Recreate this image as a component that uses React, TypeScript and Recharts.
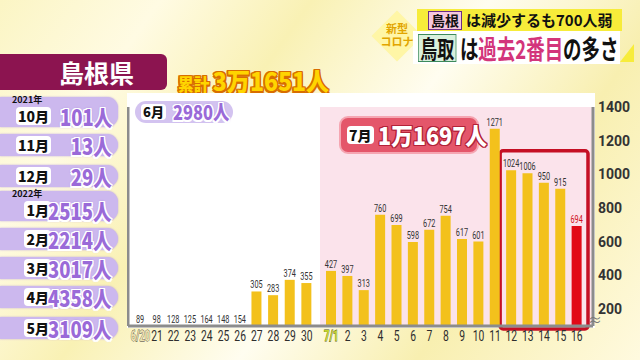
import { Bar, BarChart, CartesianGrid, Cell, LabelList, Rectangle, ReferenceArea, XAxis, YAxis } from 'recharts'

// June (6/20 - 6/30) daily new cases, Shimane
const juneDays = ['6/20', '21', '22', '23', '24', '25', '26', '27', '28', '29', '30']
const juneCases = [89, 98, 128, 125, 164, 148, 154, 305, 283, 374, 355]

// July (7/1 - 7/16)
const julyDays = ['7/1', '2', '3', '4', '5', '6', '7', '8', '9', '10', '11', '12', '13', '14', '15', '16']
const julyCases = [427, 397, 313, 760, 699, 598, 672, 754, 617, 601, 1271, 1024, 1006, 950, 915, 694]

// monthly totals on the left
const monthNames = ['10月', '11月', '12月', '1月', '2月', '3月', '4月', '5月']
const monthTotals = [101, 13, 29, 2515, 2214, 3017, 4358, 3109]
const monthYears = ['2021年', '', '', '2022年', '', '', '', '']

const yTicks = [200, 400, 600, 800, 1000, 1200, 1400]
const Y_DOMAIN = [100, 1400]
const BREAK_AT = 200 // bars below the axis break are not drawn
const LATEST_DAY = '16'
const BOX_FROM = '12'
const BOX_TO = '16'
const BOX_TOP = 1140

const juneData = juneDays.map((day, i) => ({ day, cases: juneCases[i] }))
const julyData = julyDays.map((day, i) => ({ day, cases: julyCases[i] }))

const JP = '"Noto Sans CJK JP", "Noto Sans", sans-serif'
const NUM = 'Roboto, "Noto Sans", sans-serif'
const BAR_YELLOW = '#f3c11c'
const BAR_RED = '#e20a17'
const AXIS_GRAY = '#8c8c8c'

const outline = (c: string, w: number) =>
  [[w, 0], [-w, 0], [0, w], [0, -w], [w, w], [-w, -w], [w, -w], [-w, w]]
    .map(([a, b]) => `${a}px ${b}px 0 ${c}`)
    .join(',')

const squeeze = (s: number, origin = 'left') => ({
  display: 'inline-block',
  transform: `scaleX(${s})`,
  transformOrigin: origin,
  whiteSpace: 'nowrap' as const,
})

const BarShape = (p: any) => {
  if (p.payload.cases < BREAK_AT) return <g />
  return <Rectangle {...p} />
}

const BarValue = (p: any) => {
  const { x, y, width, height, value, index } = p
  const small = value < BREAK_AT
  const baseY = y + height
  const isLatest = p.days && p.days[index] === LATEST_DAY
  const s = String(value)
  return (
    <text
      x={x + width / 2}
      y={small ? baseY - 3 : y - 3}
      textAnchor="middle"
      fontSize={11}
      fontFamily={NUM}
      textLength={s.length * 4.1}
      lengthAdjust="spacingAndGlyphs"
      fill={isLatest ? '#d0101c' : '#333'}
    >
      {s}
    </text>
  )
}

const DayTick = ({ x, y, payload }: any) => {
  const v = payload.value as string
  const first = v === '6/20'
  const july = v === '7/1'
  return (
    <text
      x={x}
      y={y + 13}
      textAnchor="middle"
      fontSize={15}
      fontFamily={NUM}
      textLength={v.length * (v.includes('/') ? 4.8 : 5.8)}
      lengthAdjust="spacingAndGlyphs"
      fontWeight={first || july ? 700 : 400}
      fill={july ? '#c5d52a' : first ? '#efe2b0' : '#2e2e2e'}
      stroke={july ? '#505020' : first ? '#333' : 'none'}
      strokeWidth={first || july ? 0.8 : 0}
      paintOrder="stroke"
    >
      {v}
    </text>
  )
}

const RedBox = (p: any) => (
  <rect
    x={p.x - 3}
    y={p.y}
    width={p.width + 6}
    height={p.height + 3}
    rx={3}
    fill="none"
    stroke="#c50f24"
    strokeWidth={3.5}
  />
)

const ROW_CENTERS = [116, 145, 176, 210, 239, 268, 297, 328]

const MonthRows = () => (
  <>
    {monthNames.map((m, i) => {
      const c = ROW_CENTERS[i]
      const tall = monthYears[i] !== ''
      const top = c - 11 - (tall ? 8 : 0)
      return (
        <div key={m}>
          <div
            style={{
              position: 'absolute', left: 0, top, width: 118, height: c + 11 - top,
              background: '#ccb8ee', borderRadius: '0 11px 11px 0',
              boxShadow: '0 0 2px #b9a2e0',
            }}
          />
          {tall && (
            <div style={{ position: 'absolute', left: 12, top: c - 21, fontSize: 9, fontWeight: 700, fontFamily: JP, color: '#111', lineHeight: '10px' }}>
              {monthYears[i]}
            </div>
          )}
          <div
            style={{
              position: 'absolute', right: 640 - 51, top: c - 9, height: 18, padding: '0 2px',
              background: '#fff', borderRadius: 4, fontSize: 14, fontWeight: 900, fontFamily: JP,
              lineHeight: '18px', color: '#111',
            }}
          >
            {m}
          </div>
          <div
            style={{
              position: 'absolute', right: 640 - 112, top: c - 14, fontSize: 22, fontWeight: 900,
              fontFamily: JP, lineHeight: '28px', color: '#9a6ad8',
              textShadow: outline('#fff', 1.5) + ',0 0 3px #8a5cc8',
            }}
          >
            <span style={squeeze(0.84, 'right')}>{monthTotals[i]}人</span>
          </div>
        </div>
      )
    })}
  </>
)

export default function App() {
  return (
    <div
      style={{
        position: 'absolute', left: 0, top: 0, width: 640, height: 360, overflow: 'hidden',
        background: 'linear-gradient(125deg, #fbf5c4 0%, #fffbe3 18%, #f9f1b4 35%, #fffdf0 55%, #f8efb0 75%, #fffadf 100%)',
        fontFamily: JP,
      }}
    >
      {/* caption, top right */}
      <div style={{ position: 'absolute', left: 379, top: 18, width: 36, height: 36, background: '#fff6a6', transform: 'rotate(45deg)' }} />
      <div style={{ position: 'absolute', left: 380, top: 22, width: 34, textAlign: 'center', fontSize: 11, lineHeight: '13px', color: '#e2a500', fontWeight: 700 }}>
        新型<br />コロナ
      </div>
      <div style={{ position: 'absolute', left: 417, top: 9, width: 205, height: 22, background: '#f7ec3a' }} />
      <div style={{ position: 'absolute', left: 428, top: 11, height: 17, padding: '0 2px', background: '#f5c8de', border: '1.5px solid #6b2c86', fontSize: 14, lineHeight: '17px', fontWeight: 700, color: '#111' }}>
        島根
      </div>
      <div style={{ position: 'absolute', left: 466, top: 9, fontSize: 15, lineHeight: '22px', fontWeight: 700, color: '#111', whiteSpace: 'nowrap' }}>
        は減少するも700人弱
      </div>
      <div style={{ position: 'absolute', left: 413, top: 31, width: 207, height: 33, background: '#fff' }} />
      <div style={{ position: 'absolute', left: 620, top: 44, width: 14, height: 18, background: '#f7ec3a', clipPath: 'polygon(100% 0, 100% 100%, 0 100%)' }} />
      <div style={{ position: 'absolute', left: 418, top: 33, ...squeeze(0.71) }}>
        <span style={{ display: 'inline-block', verticalAlign: 'middle', height: 26, padding: '0 2px', background: '#d9f0dc', border: '1.5px solid #3d8a5c', fontSize: 24, lineHeight: '26px', fontWeight: 700, color: '#111' }}>
          鳥取
        </span>
        <span style={{ display: 'inline-block', verticalAlign: 'middle', marginLeft: 5, fontSize: 26, lineHeight: '29px', fontWeight: 700, color: '#111' }}>
          は<span style={{ color: '#d3357b' }}>過去2番目</span>の多さ
        </span>
      </div>

      {/* prefecture title */}
      <div style={{ position: 'absolute', left: 0, top: 54, width: 167, height: 36, background: '#8c1450', borderRadius: '0 6px 6px 0' }} />
      <div style={{ position: 'absolute', left: 59, top: 54, fontSize: 25, lineHeight: '36px', fontWeight: 700, color: '#fff', whiteSpace: 'nowrap' }}>
        島根県
      </div>
      <div style={{ position: 'absolute', left: 178, top: 62, fontWeight: 900, color: '#ffd500', textShadow: outline('#d86e00', 1.5), ...squeeze(0.92) }}>
        <span style={{ fontSize: 17 }}>累計 </span>
        <span style={{ fontSize: 25 }}>3万1651人</span>
      </div>

      <MonthRows />

      {/* chart panel */}
      <div style={{ position: 'absolute', left: 127, top: 93, width: 468, height: 235, background: '#fff' }} />

      <BarChart
        width={193}
        height={255}
        data={juneData}
        margin={{ top: 12, right: 0, bottom: 0, left: 0 }}
        style={{ position: 'absolute', left: 127, top: 95 }}
      >
        <XAxis
          dataKey="day"
          height={24}
          padding={{ left: 4, right: 5 }}
          tickLine={false}
          tickSize={0}
          interval={0}
          axisLine={{ stroke: AXIS_GRAY, strokeWidth: 3 }}
          tick={<DayTick />}
        />
        <YAxis
          width={1}
          domain={Y_DOMAIN}
          allowDataOverflow
          tick={false}
          tickLine={false}
          axisLine={{ stroke: AXIS_GRAY, strokeWidth: 3 }}
        />
        <Bar dataKey="cases" barSize={10} fill={BAR_YELLOW} shape={BarShape} isAnimationActive={false}>
          <LabelList dataKey="cases" content={<BarValue days={juneDays} />} />
        </Bar>
      </BarChart>

      <BarChart
        width={320}
        height={255}
        data={julyData}
        margin={{ top: 12, right: 2, bottom: 0, left: 0 }}
        style={{ position: 'absolute', left: 320, top: 95 }}
      >
        <CartesianGrid horizontal={false} vertical={false} fill="#fbe3eb" stroke="none" />
        <XAxis
          dataKey="day"
          height={24}
          padding={{ left: 3, right: 8 }}
          tickLine={false}
          tickSize={0}
          interval={0}
          axisLine={{ stroke: AXIS_GRAY, strokeWidth: 3 }}
          tick={<DayTick />}
        />
        <YAxis
          orientation="right"
          width={45}
          domain={Y_DOMAIN}
          allowDataOverflow
          ticks={yTicks}
          tickLine={false}
          tickSize={0}
          tickMargin={5}
          axisLine={{ stroke: AXIS_GRAY, strokeWidth: 3 }}
          tick={{ fontSize: 14, fontWeight: 700, fill: '#333', fontFamily: NUM, textAnchor: 'start' }}
        />
        <Bar dataKey="cases" barSize={10} shape={BarShape} isAnimationActive={false}>
          {julyData.map((d) => (
            <Cell key={d.day} fill={d.day === LATEST_DAY ? BAR_RED : BAR_YELLOW} />
          ))}
          <LabelList dataKey="cases" content={<BarValue days={julyDays} />} />
        </Bar>
        <ReferenceArea x1={BOX_FROM} x2={BOX_TO} y1={Y_DOMAIN[0]} y2={BOX_TOP} shape={RedBox} />
      </BarChart>

      {/* axis break mark */}
      <div style={{ position: 'absolute', left: 588, top: 312, fontSize: 14, color: '#777', lineHeight: '14px' }}>≈</div>

      {/* month totals inside the chart */}
      <div style={{ position: 'absolute', left: 135, top: 101, width: 98, height: 22, background: '#d3c3f0', borderRadius: 11 }} />
      <div style={{ position: 'absolute', left: 141, top: 104, height: 16, padding: '0 2px', background: '#fff', borderRadius: 4, fontSize: 13, lineHeight: '16px', fontWeight: 900, color: '#111' }}>
        6月
      </div>
      <div style={{ position: 'absolute', left: 173, top: 98, fontSize: 20, lineHeight: '27px', fontWeight: 900, color: '#9a6ad8', textShadow: outline('#fff', 1.5) + ',0 0 3px #8a5cc8', ...squeeze(0.82) }}>
        2980人
      </div>

      <div style={{ position: 'absolute', left: 339, top: 116, width: 140, height: 38, boxSizing: 'border-box', background: '#e4566a', border: '2px solid #f5a6b2', borderRadius: 9 }} />
      <div style={{ position: 'absolute', left: 347, top: 126, height: 18, padding: '0 2px', background: '#fff', borderRadius: 4, fontSize: 14, lineHeight: '18px', fontWeight: 900, color: '#111' }}>
        7月
      </div>
      <div style={{ position: 'absolute', left: 378, top: 118, fontSize: 24, lineHeight: '33px', fontWeight: 900, color: '#fff', textShadow: outline('#b32238', 1.2), ...squeeze(0.9) }}>
        1万1697人
      </div>
    </div>
  )
}
